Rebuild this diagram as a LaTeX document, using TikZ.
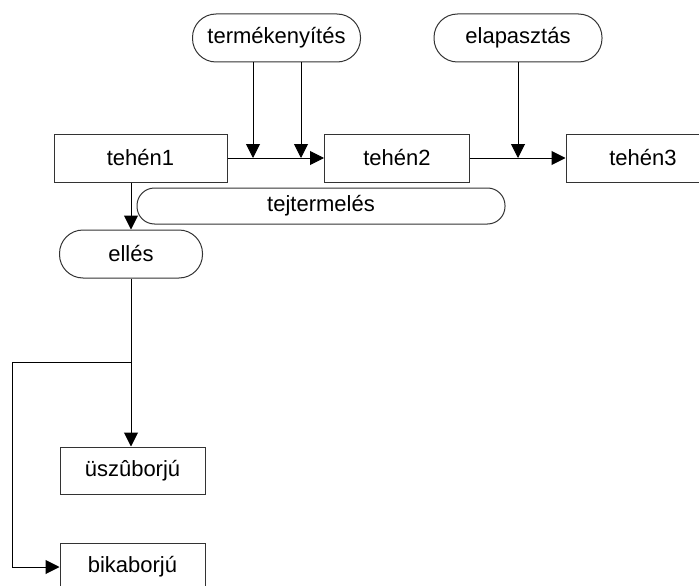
\documentclass[tikz,border=0pt]{standalone}
\usepackage{fontspec}
\setmainfont{Liberation Sans}
\usetikzlibrary{arrows.meta}
\begin{document}
\begin{tikzpicture}[x=1pt,y=-1pt,
  every node/.style={font=\fontsize{22}{26}\selectfont, inner sep=0pt},
  sqbox/.style={draw=black!80, line width=1pt, rectangle},
  rndbox/.style={draw=black!80, line width=1pt, rectangle, rounded corners=#1},
  arr/.style={draw=black, line width=1pt, -{Triangle[length=14pt,width=14pt]}},
  ln/.style={draw=black, line width=1pt}]
\useasboundingbox (0,0) rectangle (699,586);
\node[rndbox=23.5pt, minimum width=168pt, minimum height=48pt] (term) at (276.5,38) {termékenyítés};
\node[rndbox=23.5pt, minimum width=168pt, minimum height=48pt] (elap) at (518,38) {elapasztás};
\node[sqbox, minimum width=173pt, minimum height=48pt] (t1) at (140.5,158) {tehén1};
\node[sqbox, minimum width=145pt, minimum height=48pt] (t2) at (397,158) {tehén2};
\node[sqbox, minimum width=154pt, minimum height=48pt] (t3) at (643,158) {tehén3};
\node[rndbox=17.5pt, minimum width=368pt, minimum height=36pt] (tej) at (321,206) {tejtermelés};
\node[rndbox=23.5pt, minimum width=143pt, minimum height=48pt] (elles) at (131,254) {ellés};
\node[sqbox, minimum width=145pt, minimum height=47pt] (usz) at (132.5,470.5) {üszûborjú};
\node[sqbox, minimum width=145pt, minimum height=48pt] (bika) at (132.5,567) {bikaborjú};
\coordinate (ta) at (253,158);
\coordinate (tb) at (301,158);
\coordinate (br) at (131,362);
\draw[arr] (t1.east) -- (t2.west);
\draw[arr] (term.south -| ta) -- (ta);
\draw[arr] (term.south -| tb) -- (tb);
\draw[arr] (t2.east) -- (t3.west);
\draw[arr] (elap.south) -- (elap.south |- t2.east);
\draw[arr] (t1.south -| elles.north) -- (elles.north);
\draw[arr] (elles.south) -- (elles.south |- usz.north);
\draw[arr] (br) -- ++(-118.5,0) |- (bika.west);
\end{tikzpicture}
\end{document}
